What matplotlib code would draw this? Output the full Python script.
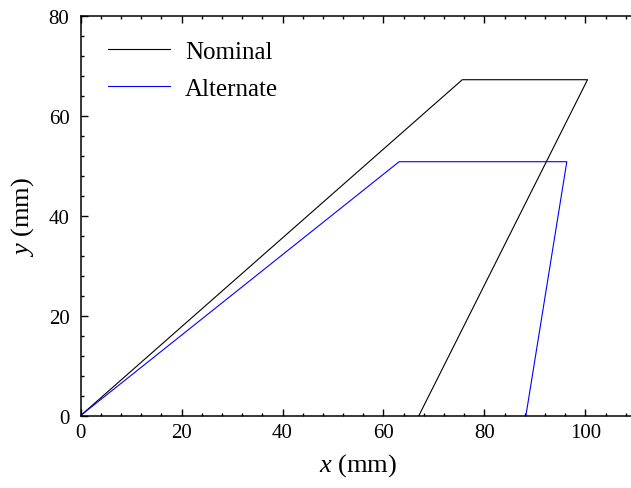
import matplotlib.pyplot as plt
from matplotlib.ticker import MultipleLocator

# profile corner points (mm)
nominal_x = [0, 75.6, 100.4, 67.0]
nominal_y = [0, 67.2, 67.2, 0]
alternate_x = [0, 63.1, 96.3, 88.2]
alternate_y = [0, 50.8, 50.8, 0]

plt.rcParams['font.family'] = 'Liberation Serif'
plt.rcParams['mathtext.fontset'] = 'custom'
plt.rcParams['mathtext.it'] = 'Liberation Serif:italic'
plt.rcParams['mathtext.rm'] = 'Liberation Serif'

fig = plt.figure(figsize=(6.31, 4.89), dpi=100)
ax = fig.add_axes([0.1276, 0.1479, 0.8803, 0.8179])

ax.plot(nominal_x, nominal_y, color='black', linewidth=0.8, label='Nominal')
ax.plot(alternate_x, alternate_y, color='blue', linewidth=0.8, label='Alternate')

ax.set_xlim(0, 110)
ax.set_ylim(0, 80)
ax.xaxis.set_major_locator(MultipleLocator(20))
ax.xaxis.set_minor_locator(MultipleLocator(4))
ax.yaxis.set_major_locator(MultipleLocator(20))
ax.yaxis.set_minor_locator(MultipleLocator(4))

ax.tick_params(which='both', direction='in', top=True, right=False, width=1.0)
ax.tick_params(which='major', length=5, labelsize=15)
ax.tick_params(axis='x', which='major', pad=5)
ax.tick_params(axis='y', which='major', pad=8)
ax.tick_params(which='minor', length=2.5)
for s in ax.spines.values():
    s.set_linewidth(1.1)

ax.set_xlabel('$x$ (mm)', fontsize=19, labelpad=7)
ax.set_ylabel('$y$ (mm)', fontsize=19, labelpad=9)

ax.legend(loc='upper left', bbox_to_anchor=(0.0126, 0.9875), borderaxespad=0,
          frameon=False, fontsize=18, handlelength=2.5, handletextpad=0.6,
          labelspacing=0.57, borderpad=0.8)

fig.savefig('out.png', dpi=100)
